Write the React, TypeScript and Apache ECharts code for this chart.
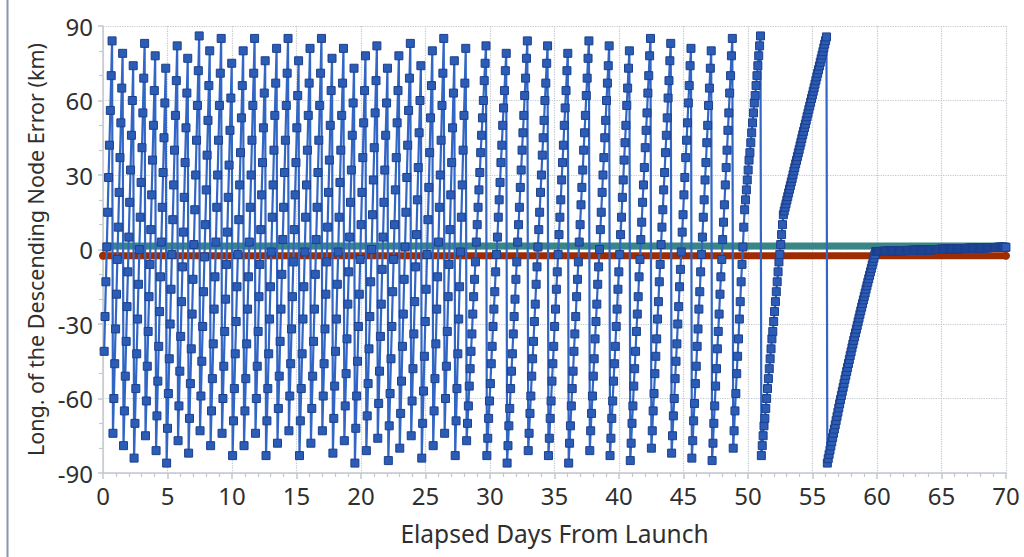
import React, { useEffect, useRef } from "react";
import * as echarts from "echarts";

// Sampling grid: one sample per orbit (days)
const FIRST_DAY = 0.09;
const ORBIT_DAYS = 0.0682;

// Axis ticks
const X_TICKS = [0, 5, 10, 15, 20, 25, 30, 35, 40, 45, 50, 55, 60, 65, 70];
const Y_TICKS = [-90, -60, -30, 0, 30, 60, 90];

// Long. of descending node error (km), read column by column
const SEG_A = [
  [-41, -27, -13, 1, 15, 29, 42, 56, 70, 84],
  [-74, -60, -46, -32, -18, -4, 9, 23, 37, 51, 65, 79],
  [-79, -65, -51, -37, -23, -9, 5, 19, 32, 46, 60, 74],
  [-84, -70, -56, -42, -28, -14, 0, 13, 27, 41, 55, 69, 83],
  [-75, -61, -47, -33, -19, -6, 8, 22, 36, 50, 64, 78],
  [-81, -67, -53, -39, -25, -11, 3, 17, 31, 45, 59, 73],
  [-86, -72, -58, -44, -30, -16, -2, 12, 26, 40, 54, 68, 82],
  [-77, -63, -49, -35, -21, -7, 7, 21, 35, 49, 63, 77],
  [-82, -68, -54, -40, -26, -12, 2, 16, 30, 44, 58, 72, 86],
  [-73, -59, -45, -31, -17, -3, 10, 24, 38, 52, 66, 80],
  [-79, -65, -52, -38, -24, -11, 3, 17, 30, 44, 58, 71, 85],
  [-74, -60, -47, -33, -20, -6, 7, 21, 34, 48, 61, 75],
  [-83, -69, -56, -42, -29, -15, -2, 12, 26, 39, 53, 66, 80],
  [-79, -65, -52, -38, -24, -11, 3, 17, 30, 44, 58, 71, 85],
  [-74, -60, -47, -33, -19, -6, 8, 22, 35, 49, 63, 76],
  [-83, -69, -56, -42, -28, -15, -1, 13, 26, 40, 54, 67, 81],
  [-78, -64, -51, -37, -24, -10, 4, 17, 31, 44, 58, 71, 85],
  [-73, -59, -46, -32, -19, -5, 8, 22, 35, 49, 62, 76],
  [-83, -69, -56, -42, -28, -15, -1, 13, 26, 40, 54, 67, 81],
  [-78, -64, -51, -37, -24, -10, 4, 17, 31, 44, 58, 71, 85],
  [-73, -59, -46, -32, -18, -5, 9, 23, 36, 50, 64, 77],
  [-82, -68, -55, -41, -28, -14, -1, 13, 27, 40, 54, 67, 81],
  [-77, -63, -50, -36, -22, -9, 5, 19, 32, 46, 59, 73],
  [-86, -72, -59, -45, -31, -18, -4, 10, 23, 37, 51, 64, 78],
  [-81, -67, -54, -40, -27, -13, 0, 14, 28, 41, 55, 68, 82],
  [-76, -62, -49, -35, -22, -8, 5, 19, 32, 46, 59, 73],
  [-85, -71, -58, -44, -31, -17, -4, 10, 24, 37, 51, 64, 78],
  [-80, -66, -53, -39, -26, -12, 1, 15, 29, 42, 56, 69, 83],
  [-75, -61, -48, -34, -21, -7, 6, 20, 33, 47, 60, 74],
  [-84, -70, -57, -43, -29, -16, -2, 12, 25, 39, 53, 66, 80],
  [-79, -65, -52, -38, -24, -11, 3, 17, 30, 44, 58, 71, 85],
  [-74, -60, -47, -33, -19, -6, 8, 22, 35, 49, 63, 76],
  [-83, -69, -56, -42, -28, -15, -1, 13, 26, 40, 54, 67, 81],
];

const SEG_B = [
  [-77, -70, -63, -55, -48, -41, -34, -26, -19, -12, -5, 3, 10, 17, 24, 31, 39, 46, 53, 60, 68, 75, 82],
  [-83, -76, -68, -61, -54, -46, -39, -31, -24, -17, -9, -2, 5, 13, 20, 27, 35, 42, 50, 57, 64, 72, 79],
  [-86, -79, -71, -64, -56, -49, -42, -34, -27, -20, -12, -5, 3, 10, 17, 25, 32, 40, 47, 54, 62, 69, 77, 84],
  [-81, -74, -66, -59, -51, -44, -37, -29, -22, -14, -7, 1, 8, 15, 23, 30, 38, 45, 52, 60, 67, 75, 82],
  [-83, -76, -68, -61, -53, -46, -39, -31, -24, -16, -9, -2, 6, 13, 20, 28, 35, 42, 50, 57, 64, 72, 79],
  [-86, -78, -71, -63, -56, -49, -41, -34, -27, -19, -12, -5, 3, 10, 18, 25, 32, 40, 47, 54, 62, 69, 77, 84],
  [-81, -73, -66, -59, -51, -44, -36, -29, -22, -14, -7, 0, 8, 15, 23, 30, 37, 45, 52, 60, 67, 74, 82],
  [-83, -76, -68, -61, -53, -46, -39, -31, -24, -16, -9, -2, 6, 13, 21, 28, 36, 43, 50, 58, 65, 73, 80],
  [-85, -78, -70, -63, -55, -48, -41, -33, -26, -19, -11, -4, 4, 11, 19, 26, 33, 41, 48, 55, 63, 70, 78, 85],
  [-80, -73, -65, -58, -50, -43, -36, -28, -21, -13, -6, 2, 9, 16, 24, 31, 39, 46, 53, 61, 68, 76, 83],
  [-82, -75, -67, -60, -52, -45, -38, -30, -23, -15, -8, -1, 7, 14, 22, 29, 37, 44, 51, 59, 66, 74, 81],
  [-84, -77, -69, -62, -54, -47, -39, -32, -24, -17, -9, -2, 5, 13, 20, 28, 35, 43, 50, 58, 65, 73, 80],
  [-85, -78, -70, -63, -55, -48, -40, -33, -26, -18, -11, -4, 4, 11, 18, 26, 33, 40, 48, 55, 63, 70, 78, 85],
];

const SEG_C = [
  -80, -73, -65, -58, -50, -43, -36, -28, -21, -13, -6, 1, 9, 16, 20, 24, 28, 32, 36, 39, 43, 47, 51, 55,
  59, 62, 66, 70, 74, 78, 82, 86,
];

const RAMP_E = [
  -83, -79, -75, -71, -68, -64, -60, -56, -52, -48, -44, -40, -36, -33, -29, -25, -21, -17, -13, -9, -5, -2,
  2, 6, 10, 14, 15.5, 17, 18.4, 19.9, 21.3, 22.8, 24.3, 25.7, 27.2, 28.6, 30.1, 31.6, 33, 34.5, 35.9, 37.4,
  38.9, 40.3, 41.8, 43.2, 44.7, 46.2, 47.6, 49.1, 50.5, 52, 53.5, 54.9, 56.4, 57.8, 59.3, 60.8, 62.2, 63.7,
  65.1, 66.6, 68.1, 69.5, 71, 72.4, 73.9, 75.4, 76.8, 78.3, 79.7, 81.2, 82.7, 84.1, 85.6,
];

const RAMP_F = [
  -86, -84.2, -82.5, -80.8, -79.1, -77.4, -75.7, -74, -72.3, -70.6, -68.9, -67.2, -65.5, -63.8, -62.1, -60.4,
  -58.8, -57.1, -55.5, -53.9, -52.3, -50.7, -49.1, -47.5, -45.9, -44.3, -42.7, -41.2, -39.6, -38.1, -36.6,
  -35.1, -33.6, -32.1, -30.6, -29.1, -27.6, -26.1, -24.7, -23.2, -21.8, -20.3, -18.9, -17.5, -16, -14.6,
  -13.2, -11.8, -10.4, -9, -7.6, -6.2, -4.8, -3.5, -2.1, -0.8,
];

const FLAT = [
  -0.8, -0.8, -0.8, -0.8, -0.8, -0.8, -0.8, -0.8,
  -0.7, -0.7, -0.7, -0.7, -0.7, -0.7, -0.7, -0.7,
  -0.6, -0.6, -0.6, -0.6, -0.6, -0.6, -0.6, -0.6,
  -0.5, -0.5, -0.5, -0.5, -0.5, -0.5, -0.5, -0.5,
  -0.4, -0.4, -0.4, -0.4, -0.4, -0.4, -0.4, -0.4,
  -0.3, -0.3, -0.3, -0.3, -0.3, -0.3, -0.3, -0.3,
  -0.2, -0.2, -0.2, -0.2, -0.2, -0.2, -0.2, -0.2,
  -0.1, -0.1, -0.1, -0.1, -0.1, -0.1, -0.1, -0.1,
  0, 0, 0, 0, 0, 0, 0, 0,
  0.1, 0.1, 0.1, 0.1, 0.1, 0.1, 0.1, 0.1,
  0.2, 0.2, 0.2, 0.2, 0.2, 0.2, 0.2, 0.2,
  0.3, 0.3, 0.3, 0.3, 0.3, 0.3, 0.3, 0.3,
  0.4, 0.4, 0.4, 0.4, 0.4, 0.4, 0.4, 0.4,
  0.5, 0.5, 0.5, 0.5, 0.5, 0.5, 0.5, 0.5,
  0.6, 0.6, 0.6, 0.6, 0.6, 0.6, 0.6, 0.6,
  0.7, 0.7, 0.7, 0.7, 0.7, 0.7, 0.7, 0.7,
  0.8, 0.8, 0.8, 0.8, 0.8, 0.8, 0.8, 0.8, 0.8, 0.8,
  0.9, 0.9, 0.9, 0.9, 0.9, 0.9, 0.9, 0.9, 0.9, 0.9,
];

// Reference levels (km)
const UPPER_LEVEL = 1.4;
const LOWER_LEVEL = -2.5;
const LEVEL_SPAN = [0, 70];

const FONT = "'Noto Sans', 'Open Sans', sans-serif";
const TEXT_COLOR = "#2f2f2f";

export default function App() {
  const ref = useRef<HTMLDivElement>(null);

  useEffect(() => {
    if (!ref.current) return;
    const chart = echarts.init(ref.current, undefined, { renderer: "svg" });

    const values: number[] = [
      ...SEG_A.flat(),
      ...SEG_B.flat(),
      ...SEG_C,
      ...RAMP_E,
      ...RAMP_F,
      ...FLAT,
    ];
    const blueData = values.map((v, i) => [FIRST_DAY + i * ORBIT_DAYS, v]);

    const axisColor = "#c3c8cf";
    const gridColor = "#c2c6cd";

    chart.setOption({
      animation: false,
      textStyle: { fontFamily: FONT },
      grid: { left: 103, right: 18, top: 26, bottom: 84 },
      graphic: [
        {
          type: "line",
          shape: { x1: 7.5, y1: 0, x2: 7.5, y2: 557 },
          style: { stroke: "#8896aa", lineWidth: 2 },
          silent: true,
        },
      ],
      xAxis: {
        type: "value",
        min: X_TICKS[0],
        max: X_TICKS[X_TICKS.length - 1],
        interval: 5,
        name: "Elapsed Days From Launch",
        nameLocation: "middle",
        nameGap: 48,
        nameTextStyle: { fontSize: 24.5, color: TEXT_COLOR, fontFamily: FONT },
        axisLine: { show: true, onZero: false, lineStyle: { color: axisColor, width: 1.5 } },
        axisTick: { show: true, length: 6, lineStyle: { color: axisColor, width: 1.5 } },
        minorTick: { show: true, splitNumber: 5, length: 4, lineStyle: { color: axisColor, width: 1.2 } },
        axisLabel: { fontSize: 24, color: TEXT_COLOR, margin: 10, fontFamily: FONT },
        splitLine: { show: true, lineStyle: { color: gridColor, type: "dotted", width: 1.2 } },
      },
      yAxis: {
        type: "value",
        min: Y_TICKS[0],
        max: Y_TICKS[Y_TICKS.length - 1],
        interval: 30,
        name: "Long. of the Descending Node Error (km)",
        nameLocation: "middle",
        nameGap: 56,
        nameRotate: 90,
        nameTextStyle: { fontSize: 21.5, color: TEXT_COLOR, fontFamily: FONT },
        axisLine: { show: true, onZero: false, lineStyle: { color: axisColor, width: 1.5 } },
        axisTick: { show: true, length: 5, lineStyle: { color: axisColor, width: 1.5 } },
        minorTick: { show: true, splitNumber: 3, length: 4, lineStyle: { color: axisColor, width: 1.2 } },
        axisLabel: { fontSize: 24, color: TEXT_COLOR, margin: 10, fontFamily: FONT },
        splitLine: { show: true, lineStyle: { color: gridColor, type: "dotted", width: 1.2 } },
      },
      series: [
        {
          type: "line",
          name: "Upper",
          data: LEVEL_SPAN.map((x) => [x, UPPER_LEVEL]),
          showSymbol: false,
          lineStyle: { color: "#3a8686", width: 7 },
          z: 1,
          clip: false,
        },
        {
          type: "line",
          name: "Lower",
          data: LEVEL_SPAN.map((x) => [x, LOWER_LEVEL]),
          symbol: "circle",
          symbolSize: 8,
          itemStyle: { color: "#a02c02" },
          lineStyle: { color: "#9e2c02", width: 7 },
          z: 2,
          clip: false,
        },
        {
          type: "line",
          name: "Error",
          data: blueData,
          symbol: "rect",
          symbolSize: 8,
          showSymbol: true,
          showAllSymbol: true,
          itemStyle: { color: "#2b5cb6", borderColor: "#1c3f8c", borderWidth: 1 },
          lineStyle: { color: "#3266c4", width: 2.2 },
          z: 3,
          clip: false,
        },
      ],
    });

    return () => chart.dispose();
  }, []);

  return (
    <div
      ref={ref}
      style={{ position: "absolute", left: 0, top: 0, width: 1024, height: 557 }}
    />
  );
}
